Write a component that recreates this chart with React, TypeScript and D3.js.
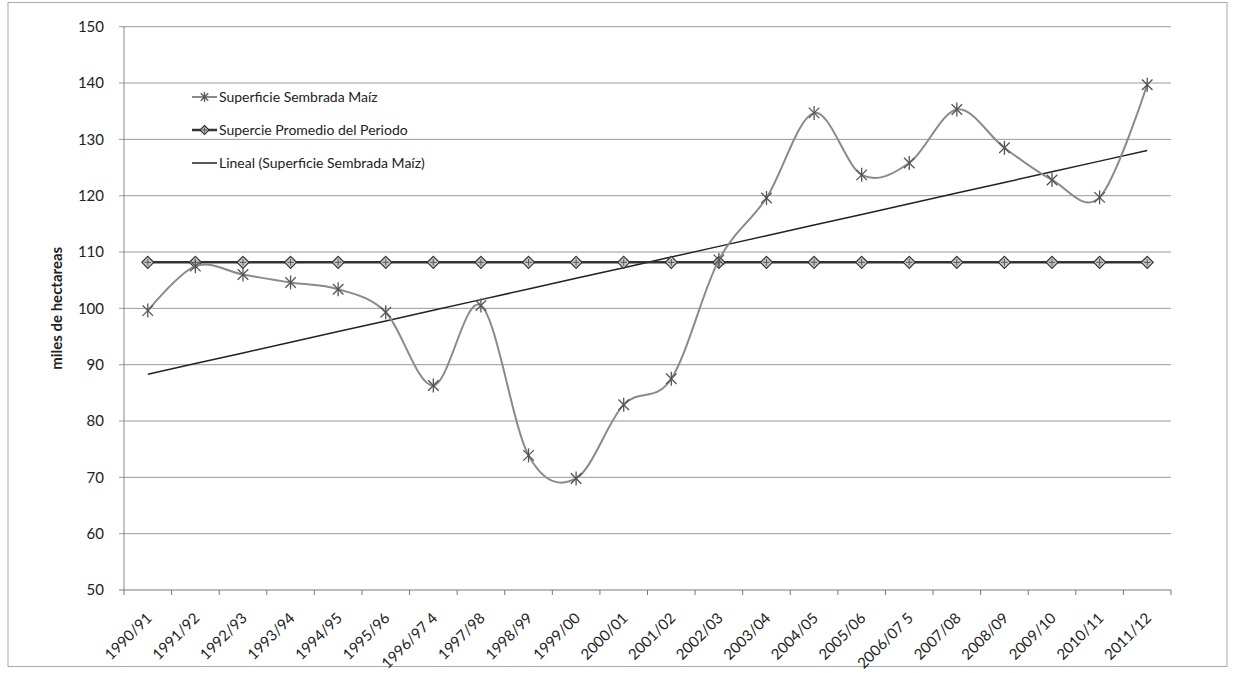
import React from "react";
import * as d3 from "d3";

const categories = [
  "1990/91", "1991/92", "1992/93", "1993/94", "1994/95", "1995/96", "1996/97 4",
  "1997/98", "1998/99", "1999/00", "2000/01", "2001/02", "2002/03", "2003/04",
  "2004/05", "2005/06", "2006/07 5", "2007/08", "2008/09", "2009/10", "2010/11", "2011/12",
];
const superficie = [
  99.6, 107.5, 106.0, 104.6, 103.4, 99.3, 86.3, 100.5, 73.9, 69.8, 82.9, 87.5,
  108.6, 119.6, 134.7, 123.7, 125.8, 135.3, 128.5, 122.8, 119.7, 139.7,
];
const yTicks = [50, 60, 70, 80, 90, 100, 110, 120, 130, 140, 150];
const legendLabels = [
  "Superficie Sembrada Maíz",
  "Supercie Promedio del Periodo",
  "Lineal (Superficie Sembrada Maíz)",
];
const yTitle = "miles de hectareas";

const W = 1233, H = 673;
const FONT = "Lato, 'Open Sans', sans-serif";

function Star({ x, y, r = 7, color = "#555" }: { x: number; y: number; r?: number; color?: string }) {
  const d = r * 0.75;
  return (
    <g stroke={color} strokeWidth={1.3}>
      <line x1={x - d} y1={y - d} x2={x + d} y2={y + d} />
      <line x1={x - d} y1={y + d} x2={x + d} y2={y - d} />
      <line x1={x} y1={y - r} x2={x} y2={y + r} />
    </g>
  );
}

function Diamond({ x, y, r = 6 }: { x: number; y: number; r?: number }) {
  return (
    <g>
      <path d={`M${x},${y - r}L${x + r},${y}L${x},${y + r}L${x - r},${y}Z`} fill="#c8c8c8" stroke="#333" strokeWidth={1.2} />
      <line x1={x - r * 0.55} y1={y} x2={x + r * 0.55} y2={y} stroke="#555" strokeWidth={1} />
      <line x1={x} y1={y - r * 0.55} x2={x} y2={y + r * 0.55} stroke="#555" strokeWidth={1} />
    </g>
  );
}

export default function App() {
  const x = d3.scaleBand<string>().domain(categories).range([124, 1171]).paddingInner(0).paddingOuter(0);
  const cx = (c: string) => (x(c) as number) + x.bandwidth() / 2;
  const y = d3.scaleLinear().domain([50, 150]).range([590, 26.7]);

  const mean = d3.mean(superficie) as number;
  const n = superficie.length;
  const mx = (n - 1) / 2;
  let sxy = 0, sxx = 0;
  superficie.forEach((v, i) => { sxy += (i - mx) * (v - mean); sxx += (i - mx) * (i - mx); });
  const slope = sxy / sxx;
  const intercept = mean - slope * mx;
  const trend = categories.map((_, i) => intercept + slope * i);

  const smooth = d3.line<number>()
    .x((_, i) => cx(categories[i]))
    .y((v) => y(v))
    .curve(d3.curveCardinal.tension(0));
  const straight = d3.line<number>()
    .x((_, i) => cx(categories[i]))
    .y((v) => y(v));

  const promedio = categories.map(() => mean);
  const boundaries = d3.range(categories.length + 1).map((k) => 124 + k * x.bandwidth());

  const legY = [97, 130, 163];

  return (
    <svg width={W} height={H} style={{ position: "absolute", left: 0, top: 0, background: "#fff" }} fontFamily={FONT}>
      <rect x={8} y={2.5} width={1219} height={664} fill="none" stroke="#aaa" strokeWidth={1} />
      {/* gridlines */}
      {yTicks.map((t) => (
        <g key={t}>
          <line x1={119} x2={1171} y1={y(t)} y2={y(t)} stroke={t === 50 ? "#777" : "#999"} strokeWidth={1} />
          <text x={104} y={y(t)} dy="0.35em" textAnchor="end" fontSize={15} fill="#222">{t}</text>
        </g>
      ))}
      {/* y axis */}
      <line x1={124} x2={124} y1={y(150)} y2={y(50)} stroke="#888" strokeWidth={1} />
      {/* x ticks */}
      {boundaries.map((b, i) => (
        <line key={i} x1={b} x2={b} y1={y(50)} y2={y(50) + 5} stroke="#777" strokeWidth={1} />
      ))}
      {/* x labels */}
      {categories.map((c) => (
        <text key={c} transform={`translate(${cx(c) + 5},${619}) rotate(-45)`} textAnchor="end" fontSize={15} fill="#222">{c}</text>
      ))}
      {/* y title */}
      <text transform={`translate(62,${(y(50) + y(150)) / 2}) rotate(-90)`} textAnchor="middle" fontSize={15} fontWeight="bold" fill="#222">{yTitle}</text>

      {/* trend line */}
      <path d={straight(trend) as string} fill="none" stroke="#222" strokeWidth={1.5} />
      {/* average line */}
      <path d={straight(promedio) as string} fill="none" stroke="#333" strokeWidth={2.5} />
      {promedio.map((v, i) => <Diamond key={i} x={cx(categories[i])} y={y(v)} />)}
      {/* series */}
      <path d={smooth(superficie) as string} fill="none" stroke="#8a8a8a" strokeWidth={2} />
      {superficie.map((v, i) => <Star key={i} x={cx(categories[i])} y={y(v)} />)}

      {/* legend */}
      <g>
        <line x1={192} x2={217} y1={legY[0]} y2={legY[0]} stroke="#8a8a8a" strokeWidth={2} />
        <Star x={204.5} y={legY[0]} r={5} />
        <text x={219} y={legY[0]} dy="0.35em" fontSize={14} fill="#222">{legendLabels[0]}</text>
        <line x1={192} x2={217} y1={legY[1]} y2={legY[1]} stroke="#333" strokeWidth={2.5} />
        <Diamond x={204.5} y={legY[1]} r={4.5} />
        <text x={219} y={legY[1]} dy="0.35em" fontSize={14} fill="#222">{legendLabels[1]}</text>
        <line x1={192} x2={217} y1={legY[2]} y2={legY[2]} stroke="#222" strokeWidth={1.5} />
        <text x={219} y={legY[2]} dy="0.35em" fontSize={14} fill="#222">{legendLabels[2]}</text>
      </g>
    </svg>
  );
}
